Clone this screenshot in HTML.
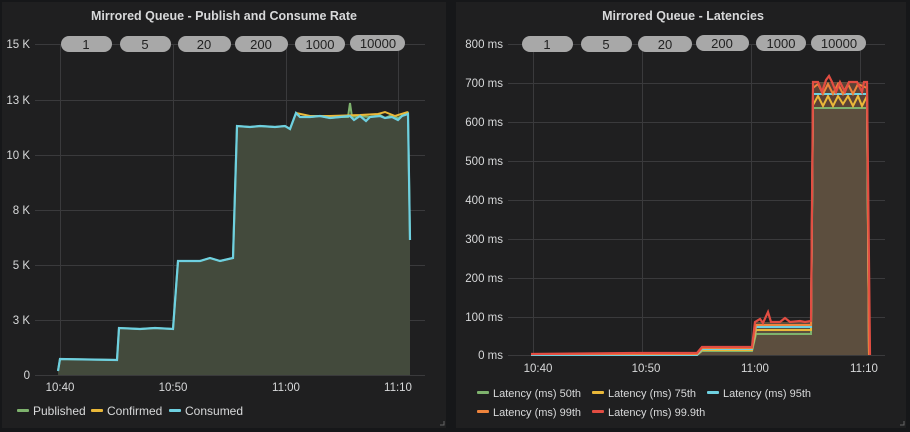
<!DOCTYPE html>
<html><head><meta charset="utf-8"><style>
html,body{margin:0;padding:0;background:#161719;}
svg{display:block;font-family:"Liberation Sans",sans-serif;}
</style></head><body>
<svg width="910" height="432" viewBox="0 0 910 432">
<rect width="910" height="432" fill="#161719"/>
<rect x="2" y="2" width="444" height="426" fill="#1f1f20"/>
<rect x="456" y="2" width="450" height="426" fill="#1f1f20"/>
<!-- Left panel -->
<text x="224" y="20" fill="#d8d9da" font-size="12.5" font-weight="bold" text-anchor="middle">Mirrored Queue - Publish and Consume Rate</text>
<g stroke="#3a3a3c" stroke-width="1">
<line x1="35" y1="44.5" x2="425" y2="44.5"/><line x1="35" y1="100.5" x2="425" y2="100.5"/>
<line x1="35" y1="155.5" x2="425" y2="155.5"/><line x1="35" y1="210.5" x2="425" y2="210.5"/>
<line x1="35" y1="265.5" x2="425" y2="265.5"/><line x1="35" y1="320.5" x2="425" y2="320.5"/>
<line x1="35" y1="375.5" x2="425" y2="375.5"/>
<line x1="60.5" y1="44" x2="60.5" y2="375"/><line x1="173.5" y1="44" x2="173.5" y2="375"/>
<line x1="286.5" y1="44" x2="286.5" y2="375"/><line x1="398.5" y1="44" x2="398.5" y2="375"/>
</g>
<g fill="#d8d9da" font-size="11.5" text-anchor="end">
<text x="30" y="48">15 K</text><text x="30" y="104">13 K</text><text x="30" y="159">10 K</text>
<text x="30" y="214">8 K</text><text x="30" y="269">5 K</text><text x="30" y="324">3 K</text><text x="30" y="379">0</text>
</g>
<g fill="#d8d9da" font-size="11.5" text-anchor="middle">
<text x="60" y="391">10:40</text><text x="173" y="391">10:50</text><text x="286" y="391">11:00</text><text x="398" y="391">11:10</text>
</g>
<path d="M58,371 L60,359 L117,360 L119,328 L140,329 L155,328 L173,329 L178,261 L200,261 L210,258 L220,261 L233,258 L237,126 L250,127 L260,126 L275,127 L285,126 L290,129 L296,113 L300,117 L310,117 L320,116 L330,118 L340,117 L350,116 L354,118 L360,116 L370,117 L380,115 L385,118 L392,115 L398,118 L402,116 L408,113 L410,240 L410,375 L58,375 Z" fill="#434a3c"/>
<path d="M58,371 L60,359 L117,360 L119,328 L140,329 L155,328 L173,329 L178,261 L200,261 L210,258 L220,261 L233,258 L237,126 L250,127 L260,126 L275,127 L285,126 L290,129 L296,113 L300,117 L310,117 L320,116 L330,118 L340,117 L348,117 L350,103 L352,117 L360,116 L370,117 L380,115 L385,118 L392,115 L398,118 L402,116 L408,113 L410,240" fill="none" stroke="#7eb26d" stroke-width="2"/>
<path d="M296,113 L310,116 L330,116 L360,115 L378,114 L385,112 L395,116 L408,112" fill="none" stroke="#eab839" stroke-width="2"/>
<path d="M58,371 L60,359 L117,360 L119,328 L140,329 L155,328 L173,329 L178,261 L200,261 L210,258 L220,261 L233,258 L237,126 L250,127 L260,126 L275,127 L285,126 L290,129 L296,113 L300,117 L310,117 L320,116 L330,118 L340,117 L350,116 L354,120 L360,116 L366,121 L370,117 L380,116 L385,118 L392,117 L398,120 L402,116 L408,114 L410,240" fill="none" stroke="#6ed0e0" stroke-width="2.2"/>
<g font-size="12" fill="#d8d9da">
<rect x="17" y="409" width="12" height="3" rx="1" fill="#7eb26d"/><text x="33" y="415">Published</text>
<rect x="91" y="409" width="12" height="3" rx="1" fill="#eab839"/><text x="107" y="415">Confirmed</text>
<rect x="169" y="409" width="12" height="3" rx="1" fill="#6ed0e0"/><text x="185" y="415">Consumed</text>
</g>
<g fill="#a8a8a8"><rect x="61" y="36" width="51" height="16" rx="8"/><rect x="120" y="36" width="51" height="16" rx="8"/><rect x="178" y="36" width="53" height="16" rx="8"/><rect x="235" y="36" width="53" height="16" rx="8"/><rect x="295" y="36" width="50" height="16" rx="8"/><rect x="350" y="35" width="55" height="16" rx="8"/></g>
<g font-size="13" fill="#222" text-anchor="middle"><text x="86" y="49">1</text><text x="145" y="49">5</text><text x="204" y="49">20</text><text x="261" y="49">200</text><text x="320" y="49">1000</text><text x="378" y="48">10000</text></g>

<!-- Right panel -->
<text x="683" y="20" fill="#d8d9da" font-size="12.5" font-weight="bold" text-anchor="middle">Mirrored Queue - Latencies</text>
<g stroke="#3a3a3c" stroke-width="1">
<line x1="508" y1="44.5" x2="885" y2="44.5"/><line x1="508" y1="83.5" x2="885" y2="83.5"/>
<line x1="508" y1="122.5" x2="885" y2="122.5"/><line x1="508" y1="161.5" x2="885" y2="161.5"/>
<line x1="508" y1="200.5" x2="885" y2="200.5"/><line x1="508" y1="239.5" x2="885" y2="239.5"/>
<line x1="508" y1="278.5" x2="885" y2="278.5"/><line x1="508" y1="317.5" x2="885" y2="317.5"/>
<line x1="508" y1="355.5" x2="885" y2="355.5"/>
<line x1="533.5" y1="44" x2="533.5" y2="355"/><line x1="642.5" y1="44" x2="642.5" y2="355"/>
<line x1="751.5" y1="44" x2="751.5" y2="355"/><line x1="860.5" y1="44" x2="860.5" y2="355"/>
</g>
<g fill="#d8d9da" font-size="11.5" text-anchor="end">
<text x="503" y="48">800 ms</text><text x="503" y="87">700 ms</text><text x="503" y="126">600 ms</text><text x="503" y="165">500 ms</text><text x="503" y="204">400 ms</text><text x="503" y="243">300 ms</text><text x="503" y="282">200 ms</text><text x="503" y="321">100 ms</text><text x="503" y="359">0 ms</text>
</g>
<g fill="#d8d9da" font-size="11.5" text-anchor="middle">
<text x="538" y="372">10:40</text><text x="646" y="372">10:50</text><text x="755" y="372">11:00</text><text x="864" y="372">11:10</text>
</g>
<path d="M531,354 L697,354 L702,349 L752,349 L755,322 L811,322 L813,82 L867,82 L870,355 L531,355 Z" fill="#5c4e3e"/>
<path d="M813,83 L867,83 L867,108 L813,108 Z" fill="#5a3a30" opacity="0.6"/>
<path d="M531,355 L697,355 L702,351 L752,351 L756,334 L811,334 L813,108 L867,108 L869,355" fill="none" stroke="#7eb26d" stroke-width="2"/>
<path d="M531,355 L697,355 L702,350 L752,350 L756,330 L811,330 L813,105 L818,96 L823,106 L828,96 L833,106 L838,96 L843,104 L848,96 L853,106 L858,96 L862,106 L867,96 L869,355" fill="none" stroke="#eab839" stroke-width="2"/>
<path d="M531,355 L697,355 L702,349 L752,349 L756,327 L811,327 L813,94 L867,94 L869,355" fill="none" stroke="#6ed0e0" stroke-width="2"/>
<path d="M531,354 L697,354 L702,348 L752,348 L756,325 L811,325 L813,88 L818,84 L823,94 L828,84 L833,94 L838,84 L843,94 L848,84 L853,94 L858,84 L867,88 L869,355" fill="none" stroke="#ef843c" stroke-width="2"/>
<path d="M531,354 L640,353 L697,353 L702,347 L752,347 L755,322 L760,319 L763,323 L768,312 L771,322 L780,322 L785,318 L790,322 L800,321 L805,322 L811,321 L813,82 L818,82 L822,92 L826,80 L829,76 L832,82 L836,92 L840,82 L845,92 L849,82 L857,82 L862,92 L864,82 L867,82 L870,355" fill="none" stroke="#e24d42" stroke-width="2.2"/>
<g font-size="11" fill="#d8d9da">
<rect x="477" y="391" width="12" height="3" rx="1" fill="#7eb26d"/><text x="493" y="397">Latency (ms) 50th</text>
<rect x="592" y="391" width="12" height="3" rx="1" fill="#eab839"/><text x="608" y="397">Latency (ms) 75th</text>
<rect x="707" y="391" width="12" height="3" rx="1" fill="#6ed0e0"/><text x="723" y="397">Latency (ms) 95th</text>
<rect x="477" y="410" width="12" height="3" rx="1" fill="#ef843c"/><text x="493" y="416">Latency (ms) 99th</text>
<rect x="592" y="410" width="12" height="3" rx="1" fill="#e24d42"/><text x="608" y="416">Latency (ms) 99.9th</text>
</g>
<g fill="#a8a8a8"><rect x="522" y="36" width="51" height="16" rx="8"/><rect x="581" y="36" width="51" height="16" rx="8"/><rect x="638" y="36" width="54" height="16" rx="8"/><rect x="696" y="35" width="53" height="16" rx="8"/><rect x="756" y="35" width="50" height="16" rx="8"/><rect x="811" y="35" width="55" height="16" rx="8"/></g>
<g font-size="13" fill="#222" text-anchor="middle"><text x="547" y="49">1</text><text x="606" y="49">5</text><text x="665" y="49">20</text><text x="722" y="48">200</text><text x="781" y="48">1000</text><text x="839" y="48">10000</text></g>
<path d="M440,425 h4 v-4" stroke="#666" fill="none"/><path d="M900,425 h4 v-4" stroke="#666" fill="none"/>
</svg>
</body></html>
